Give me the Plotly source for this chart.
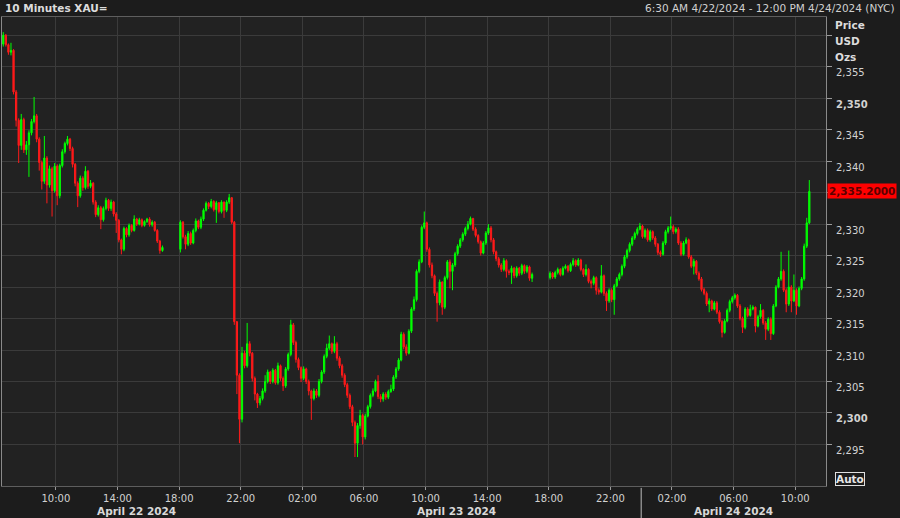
import pandas as pd
import plotly.graph_objects as go

# ---------------- data (10-minute XAU= candles) ----------------
session_starts = ["2024-04-22 06:30", "2024-04-22 18:00", "2024-04-23 18:00"]

open_s1 = [2358.6, 2360.0, 2358.5, 2357.3, 2357.6, 2351.0, 2346.5, 2342.5, 2346.6, 2341.8,
           2342.6, 2344.5, 2346.3, 2347.2, 2343.5, 2339.8, 2336.8, 2340.5, 2336.2, 2338.8,
           2335.3, 2339.2, 2334.5, 2339.3, 2341.5, 2342.8, 2343.5, 2342.0, 2339.5, 2336.5,
           2334.5, 2337.3, 2335.8, 2338.4, 2336.0, 2336.5, 2333.5, 2331.5, 2332.6, 2330.7,
           2332.5, 2333.8, 2332.5, 2333.5, 2331.6, 2330.6, 2327.5, 2326.0, 2329.3, 2328.3,
           2329.8, 2329.0, 2330.8, 2330.0, 2330.7, 2329.8, 2330.4, 2330.8, 2329.9, 2330.3,
           2329.0, 2327.3, 2325.8]
high_s1 = [2360.5, 2360.2, 2358.7, 2358.8, 2357.8, 2351.3, 2346.8, 2347.5, 2346.9, 2343.2,
           2344.9, 2346.7, 2350.2, 2347.5, 2343.8, 2340.1, 2344.0, 2340.8, 2339.3, 2339.1,
           2339.7, 2339.5, 2339.6, 2341.9, 2343.1, 2344.0, 2343.7, 2342.3, 2339.7, 2336.8,
           2337.7, 2337.6, 2339.2, 2338.6, 2337.0, 2336.7, 2333.8, 2333.0, 2332.9, 2332.8,
           2334.2, 2334.0, 2333.9, 2333.7, 2331.9, 2330.8, 2327.7, 2329.6, 2329.5, 2330.1,
           2330.0, 2331.4, 2331.0, 2331.0, 2330.9, 2330.6, 2331.0, 2331.1, 2330.6, 2330.5,
           2329.2, 2327.5, 2326.6]
low_s1 = [2358.2, 2358.2, 2356.9, 2356.8, 2350.6, 2345.5, 2339.7, 2341.8, 2341.3, 2341.0,
          2337.5, 2344.1, 2346.0, 2343.0, 2338.5, 2335.5, 2336.4, 2333.3, 2335.8, 2331.2,
          2335.0, 2333.0, 2334.1, 2339.0, 2341.2, 2342.5, 2341.6, 2339.0, 2336.0, 2332.7,
          2334.2, 2335.3, 2335.5, 2335.6, 2335.7, 2333.1, 2331.1, 2331.2, 2329.2, 2330.4,
          2332.2, 2332.1, 2332.1, 2331.2, 2328.6, 2327.1, 2325.2, 2325.7, 2327.9, 2328.0,
          2328.7, 2328.8, 2329.7, 2329.8, 2329.5, 2329.6, 2330.2, 2329.6, 2329.6, 2328.8,
          2327.0, 2325.3, 2325.6]
close_s1 = [2360.0, 2358.5, 2357.3, 2357.6, 2351.0, 2346.5, 2342.5, 2346.6, 2341.8, 2342.6,
            2344.5, 2346.3, 2347.2, 2343.5, 2339.8, 2336.8, 2340.5, 2336.2, 2338.8, 2335.3,
            2339.2, 2334.5, 2339.3, 2341.5, 2342.8, 2343.5, 2342.0, 2339.5, 2336.5, 2334.5,
            2337.3, 2335.8, 2338.4, 2336.0, 2336.5, 2333.5, 2331.5, 2332.6, 2330.7, 2332.5,
            2333.8, 2332.5, 2333.5, 2331.6, 2330.6, 2327.5, 2326.0, 2329.3, 2328.3, 2329.8,
            2329.0, 2330.8, 2330.0, 2330.7, 2329.8, 2330.4, 2330.8, 2329.9, 2330.3, 2329.0,
            2327.3, 2325.8, 2326.3]

open_s2 = [2326.0, 2330.3, 2328.0, 2326.8, 2328.5, 2327.0, 2329.0, 2330.5, 2329.5, 2330.8,
           2332.2, 2333.3, 2332.8, 2333.6, 2332.3, 2333.4, 2332.0, 2333.5, 2332.2, 2333.5,
           2334.2, 2330.3, 2314.5, 2306.0, 2299.0, 2309.5, 2307.5, 2311.0, 2309.5, 2305.5,
           2303.0, 2301.6, 2302.3, 2303.5, 2305.0, 2306.5, 2305.0, 2306.8, 2304.8, 2307.5,
           2305.5, 2304.3, 2307.0, 2309.3, 2314.0, 2311.2, 2308.5, 2307.2, 2305.5, 2307.0,
           2305.0, 2303.5, 2302.3, 2303.5, 2302.8, 2305.0, 2306.5, 2309.0, 2310.3, 2311.0,
           2309.8, 2311.0, 2308.7, 2307.5, 2306.0, 2304.5, 2302.8, 2301.0, 2298.5, 2295.2,
           2298.0, 2299.6, 2296.2, 2299.5, 2301.0, 2302.8, 2303.5, 2305.0, 2302.6, 2302.2,
           2303.0, 2302.5, 2303.4, 2303.8, 2305.7, 2307.0, 2308.4, 2312.5, 2310.5, 2309.5,
           2313.0, 2316.5, 2318.0, 2322.5, 2324.0, 2329.5, 2330.2, 2326.0, 2323.5, 2321.8,
           2319.0, 2317.5, 2320.8, 2316.8, 2321.5, 2324.0, 2322.5, 2323.5, 2325.3, 2326.5,
           2327.5, 2328.4, 2329.3, 2330.0, 2330.9, 2329.2, 2328.2, 2327.2, 2325.4, 2327.0,
           2328.6, 2329.4, 2327.5, 2325.6, 2324.5, 2323.5, 2322.8, 2324.2, 2322.5, 2322.3,
           2323.0, 2321.8, 2323.0, 2322.2, 2323.4, 2322.5, 2323.2, 2321.4]
high_s2 = [2330.6, 2330.5, 2328.3, 2328.9, 2328.8, 2329.3, 2330.9, 2330.7, 2331.2, 2332.5,
           2333.6, 2333.5, 2334.0, 2333.8, 2333.7, 2333.5, 2333.8, 2333.6, 2333.8, 2334.8,
           2334.3, 2330.5, 2314.6, 2306.3, 2310.5, 2309.9, 2314.3, 2311.4, 2309.7, 2305.8,
           2303.2, 2302.7, 2303.9, 2306.0, 2306.9, 2306.7, 2307.1, 2307.0, 2308.0, 2307.7,
           2305.8, 2307.3, 2309.6, 2314.8, 2314.3, 2311.5, 2308.8, 2307.4, 2307.4, 2307.2,
           2305.3, 2303.7, 2303.9, 2303.8, 2305.4, 2306.8, 2309.3, 2311.0, 2312.3, 2311.2,
           2312.2, 2311.3, 2309.0, 2307.8, 2306.3, 2304.8, 2303.1, 2301.3, 2298.8, 2298.4,
           2300.5, 2299.9, 2299.9, 2301.3, 2303.1, 2303.9, 2305.3, 2306.0, 2303.0, 2303.3,
           2303.3, 2303.7, 2304.5, 2306.0, 2307.3, 2308.7, 2312.9, 2312.8, 2310.9, 2313.3,
           2316.8, 2318.5, 2322.8, 2324.4, 2329.8, 2332.0, 2330.4, 2326.3, 2323.9, 2322.0,
           2319.3, 2321.2, 2320.9, 2321.8, 2324.3, 2324.4, 2323.8, 2325.6, 2326.8, 2327.8,
           2328.7, 2329.6, 2330.5, 2331.2, 2331.0, 2329.5, 2328.4, 2327.4, 2327.3, 2328.9,
           2330.0, 2329.7, 2327.8, 2325.8, 2324.8, 2323.8, 2324.6, 2324.4, 2322.8, 2323.4,
           2323.2, 2323.3, 2323.2, 2323.7, 2323.6, 2323.5, 2323.4, 2322.3]
low_s2 = [2325.5, 2327.7, 2326.0, 2326.5, 2326.7, 2326.8, 2328.7, 2329.2, 2329.2, 2330.5,
          2332.0, 2332.4, 2332.5, 2332.0, 2330.2, 2331.7, 2331.7, 2331.0, 2331.9, 2333.2,
          2330.0, 2314.0, 2303.0, 2295.2, 2298.5, 2307.1, 2307.2, 2309.0, 2305.0, 2302.0,
          2300.8, 2301.2, 2302.0, 2303.2, 2304.7, 2304.6, 2304.7, 2304.5, 2304.5, 2305.1,
          2303.5, 2304.0, 2306.7, 2309.0, 2310.8, 2308.0, 2306.8, 2304.9, 2305.2, 2304.6,
          2302.8, 2298.9, 2302.0, 2302.4, 2302.5, 2304.7, 2306.2, 2308.7, 2310.0, 2309.4,
          2309.5, 2308.3, 2307.1, 2305.6, 2304.1, 2302.4, 2300.6, 2297.9, 2293.0, 2293.0,
          2297.5, 2295.0, 2295.8, 2299.3, 2300.7, 2302.5, 2303.3, 2302.2, 2301.7, 2301.8,
          2302.1, 2302.2, 2303.2, 2303.5, 2305.4, 2306.7, 2308.2, 2310.1, 2309.1, 2309.3,
          2312.7, 2316.2, 2317.7, 2322.2, 2323.8, 2329.2, 2325.6, 2323.1, 2321.4, 2318.6,
          2314.5, 2317.1, 2315.6, 2316.5, 2321.2, 2319.8, 2319.5, 2323.2, 2325.0, 2326.2,
          2327.2, 2328.1, 2329.0, 2329.8, 2328.9, 2327.9, 2326.9, 2325.0, 2325.2, 2326.7,
          2328.3, 2327.1, 2325.2, 2324.1, 2323.1, 2322.4, 2322.5, 2321.5, 2321.9, 2320.5,
          2321.4, 2321.5, 2321.8, 2321.9, 2322.1, 2322.2, 2321.0, 2320.8]
close_s2 = [2330.3, 2328.0, 2326.8, 2328.5, 2327.0, 2329.0, 2330.5, 2329.5, 2330.8, 2332.2,
            2333.3, 2332.8, 2333.6, 2332.3, 2333.4, 2332.0, 2333.5, 2332.2, 2333.5, 2334.2,
            2330.3, 2314.5, 2306.0, 2299.0, 2309.5, 2307.5, 2311.0, 2309.5, 2305.5, 2303.0,
            2301.6, 2302.3, 2303.5, 2305.0, 2306.5, 2305.0, 2306.8, 2304.8, 2307.5, 2305.5,
            2304.3, 2307.0, 2309.3, 2314.0, 2311.2, 2308.5, 2307.2, 2305.5, 2307.0, 2305.0,
            2303.5, 2302.3, 2303.5, 2302.8, 2305.0, 2306.5, 2309.0, 2310.3, 2311.0, 2309.8,
            2311.0, 2308.7, 2307.5, 2306.0, 2304.5, 2302.8, 2301.0, 2298.5, 2295.2, 2298.0,
            2299.6, 2296.2, 2299.5, 2301.0, 2302.8, 2303.5, 2305.0, 2302.6, 2302.2, 2303.0,
            2302.5, 2303.4, 2303.8, 2305.7, 2307.0, 2308.4, 2312.5, 2310.5, 2309.5, 2313.0,
            2316.5, 2318.0, 2322.5, 2324.0, 2329.5, 2330.2, 2326.0, 2323.5, 2321.8, 2319.0,
            2317.5, 2320.8, 2316.8, 2321.5, 2324.0, 2322.5, 2323.5, 2325.3, 2326.5, 2327.5,
            2328.4, 2329.3, 2330.0, 2330.9, 2329.2, 2328.2, 2327.2, 2325.4, 2327.0, 2328.6,
            2329.4, 2327.5, 2325.6, 2324.5, 2323.5, 2322.8, 2324.2, 2322.5, 2322.3, 2323.0,
            2321.8, 2323.0, 2322.2, 2323.4, 2322.5, 2323.2, 2321.4, 2322.0]

open_s3 = [2321.5, 2322.2, 2321.6, 2322.3, 2322.8, 2322.0, 2323.0, 2323.3, 2322.6, 2323.6,
           2324.2, 2323.5, 2324.3, 2322.8, 2322.0, 2322.8, 2320.9, 2320.6, 2321.5, 2319.5,
           2319.2, 2321.8, 2319.0, 2317.8, 2319.5, 2318.0, 2320.2, 2321.3, 2322.0, 2323.3,
           2324.8, 2325.8, 2326.8, 2327.8, 2328.5, 2329.2, 2329.7, 2328.0, 2329.0, 2327.5,
           2328.8, 2327.8, 2326.8, 2325.5, 2325.2, 2327.0, 2328.8, 2329.4, 2329.6, 2328.8,
           2329.2, 2327.0, 2325.2, 2327.0, 2327.5, 2324.8, 2323.3, 2324.1, 2322.2, 2321.3,
           2319.6, 2319.0, 2317.3, 2317.8, 2316.5, 2317.5, 2316.0, 2314.5, 2312.8, 2314.6,
           2316.3, 2317.7, 2318.3, 2318.7, 2317.0, 2315.0, 2313.6, 2316.5, 2315.5, 2316.5,
           2316.8, 2313.8, 2315.3, 2316.3, 2314.3, 2313.3, 2314.9, 2312.6, 2317.0, 2320.0,
           2321.3, 2322.5, 2319.5, 2317.3, 2320.0, 2317.8, 2319.5, 2317.0, 2319.8, 2321.3,
           2326.5, 2330.2]
high_s3 = [2322.5, 2322.4, 2322.6, 2323.1, 2323.0, 2323.3, 2323.6, 2323.5, 2323.9, 2324.6,
           2324.4, 2324.6, 2324.5, 2323.0, 2323.6, 2323.0, 2321.2, 2321.8, 2321.7, 2319.8,
           2323.5, 2322.0, 2319.3, 2319.8, 2319.8, 2320.5, 2321.6, 2322.3, 2323.6, 2325.1,
           2326.1, 2327.1, 2328.1, 2328.8, 2329.5, 2330.2, 2329.9, 2329.3, 2329.3, 2329.1,
           2329.0, 2328.1, 2327.0, 2325.8, 2327.3, 2329.1, 2329.7, 2331.2, 2329.9, 2329.5,
           2329.5, 2327.3, 2327.3, 2327.9, 2327.7, 2325.1, 2324.5, 2324.3, 2322.5, 2321.6,
           2319.9, 2319.3, 2318.2, 2318.0, 2317.8, 2317.8, 2316.3, 2314.8, 2314.9, 2316.6,
           2318.0, 2318.6, 2319.0, 2318.9, 2317.3, 2315.3, 2316.8, 2316.8, 2317.2, 2317.1,
           2316.9, 2315.6, 2317.3, 2316.5, 2314.6, 2315.2, 2315.2, 2317.3, 2320.3, 2321.6,
           2325.6, 2322.8, 2319.8, 2325.8, 2320.3, 2322.0, 2319.8, 2320.1, 2321.6, 2326.9,
           2331.0, 2337.0]
low_s3 = [2321.2, 2321.3, 2321.3, 2322.0, 2321.7, 2321.8, 2322.8, 2322.3, 2322.4, 2323.3,
          2323.2, 2323.3, 2322.5, 2321.6, 2321.7, 2320.6, 2319.8, 2320.3, 2318.8, 2318.8,
          2319.0, 2318.6, 2316.2, 2317.5, 2317.6, 2315.6, 2320.0, 2321.0, 2321.7, 2323.0,
          2324.5, 2325.5, 2326.5, 2327.5, 2328.2, 2329.0, 2327.7, 2327.7, 2327.2, 2327.2,
          2327.5, 2326.4, 2325.1, 2324.8, 2325.0, 2326.7, 2328.5, 2329.1, 2328.4, 2328.5,
          2326.7, 2324.9, 2325.0, 2326.8, 2324.5, 2323.0, 2322.0, 2321.9, 2321.0, 2319.3,
          2318.7, 2317.0, 2316.0, 2316.2, 2316.3, 2315.7, 2314.2, 2312.0, 2312.6, 2314.4,
          2316.0, 2317.4, 2318.0, 2316.7, 2314.7, 2312.7, 2313.3, 2315.2, 2315.3, 2316.3,
          2312.8, 2313.6, 2315.0, 2314.0, 2311.6, 2313.0, 2311.6, 2312.4, 2316.8, 2319.8,
          2321.0, 2319.2, 2316.0, 2317.0, 2316.0, 2317.6, 2315.6, 2316.8, 2319.5, 2321.0,
          2326.2, 2330.0]
close_s3 = [2322.2, 2321.6, 2322.3, 2322.8, 2322.0, 2323.0, 2323.3, 2322.6, 2323.6, 2324.2,
            2323.5, 2324.3, 2322.8, 2322.0, 2322.8, 2320.9, 2320.6, 2321.5, 2319.5, 2319.2,
            2321.8, 2319.0, 2317.8, 2319.5, 2318.0, 2320.2, 2321.3, 2322.0, 2323.3, 2324.8,
            2325.8, 2326.8, 2327.8, 2328.5, 2329.2, 2329.7, 2328.0, 2329.0, 2327.5, 2328.8,
            2327.8, 2326.8, 2325.5, 2325.2, 2327.0, 2328.8, 2329.4, 2329.6, 2328.8, 2329.2,
            2327.0, 2325.2, 2327.0, 2327.5, 2324.8, 2323.3, 2324.1, 2322.2, 2321.3, 2319.6,
            2319.0, 2317.3, 2317.8, 2316.5, 2317.5, 2316.0, 2314.5, 2312.8, 2314.6, 2316.3,
            2317.7, 2318.3, 2318.7, 2317.0, 2315.0, 2313.6, 2316.5, 2315.5, 2316.5, 2316.8,
            2313.8, 2315.3, 2316.3, 2314.3, 2313.3, 2314.9, 2312.6, 2317.0, 2320.0, 2321.3,
            2322.5, 2319.5, 2317.3, 2320.0, 2317.8, 2319.5, 2317.0, 2319.8, 2321.3, 2326.5,
            2330.2, 2335.2]

x_tick_vals = ["2024-04-22 10:00", "2024-04-22 14:00", "2024-04-22 18:00", "2024-04-22 22:00",
               "2024-04-23 02:00", "2024-04-23 06:00", "2024-04-23 10:00", "2024-04-23 14:00",
               "2024-04-23 18:00", "2024-04-23 22:00", "2024-04-24 02:00", "2024-04-24 06:00",
               "2024-04-24 10:00"]
x_tick_text = ["10:00", "14:00", "18:00", "22:00", "02:00", "06:00", "10:00", "14:00",
               "18:00", "22:00", "02:00", "06:00", "10:00"]
y_tick_vals = [2295, 2300, 2305, 2310, 2315, 2320, 2325, 2330, 2335, 2340, 2345, 2350, 2355, 2360]
# 2,335 sits under the last-price box and 2,360 under the "USD" header in the reference
y_tick_text = ["2,295", "<b>2,300</b>", "2,305", "2,310", "2,315", "2,320", "2,325", "2,330",
               "", "2,340", "2,345", "<b>2,350</b>", "2,355", ""]
day_labels = ["April 22 2024", "April 23 2024", "April 24 2024"]
day_label_pos = ["2024-04-22 15:15", "2024-04-23 12:00", "2024-04-24 06:00"]
day_separator = "2024-04-24 00:00"
x_range = ["2024-04-22 06:30", "2024-04-24 12:00"]
y_range = [2288.4, 2362.9]

# ---------------- build ----------------
opens = open_s1 + open_s2 + open_s3
highs = high_s1 + high_s2 + high_s3
lows = low_s1 + low_s2 + low_s3
closes = close_s1 + close_s2 + close_s3
times = []
for start, c in zip(session_starts, [close_s1, close_s2, close_s3]):
    times += list(pd.date_range(start, periods=len(c), freq="10min") + pd.Timedelta(minutes=5))

fig = go.Figure(go.Candlestick(
    x=times, open=opens, high=highs, low=lows, close=closes,
    increasing=dict(line=dict(color="#00ff00", width=1), fillcolor="#00ff00"),
    decreasing=dict(line=dict(color="#ff1a1a", width=1), fillcolor="#ff1a1a"),
    whiskerwidth=0, showlegend=False,
))

FONT = "DejaVu Sans"
TXT = "#d2d2d2"
fig.update_layout(
    width=900, height=518,
    margin=dict(l=2, r=74, t=17, b=32),
    paper_bgcolor="#1c1c1c", plot_bgcolor="#222222",
    font=dict(family=FONT, size=10, color=TXT),
    showlegend=False,
)
fig.update_xaxes(
    type="date", range=x_range, rangeslider_visible=False,
    tickmode="array", tickvals=x_tick_vals, ticktext=x_tick_text,
    ticks="outside", ticklen=3, tickcolor="#9a9a9a", tickwidth=1,
    showgrid=True, gridcolor="#3b3b3b", gridwidth=1,
    showline=True, linecolor="#5e5e5e", linewidth=1, mirror=True,
    zeroline=False, tickfont=dict(family=FONT, size=10, color=TXT),
)
fig.update_yaxes(
    side="right", range=y_range,
    tickmode="array", tickvals=y_tick_vals, ticktext=y_tick_text,
    ticks="outside", ticklen=5, tickcolor="#9a9a9a", tickwidth=1,
    showgrid=True, gridcolor="#3b3b3b", gridwidth=1,
    showline=True, linecolor="#8a8a8a", linewidth=1, mirror=True,
    zeroline=False, ticklabelshift=6, ticklabelstandoff=2,
    tickfont=dict(family=FONT, size=10, color=TXT),
)

# headers
fig.add_annotation(xref="paper", yref="paper", x=0.001, y=1.019, xanchor="left", yanchor="middle",
                   text="<b>10 Minutes XAU=</b>", showarrow=False,
                   font=dict(family=FONT, size=10.5, color="#dcdcdc"))
fig.add_annotation(xref="paper", yref="paper", x=1.0862, y=1.019, xanchor="right", yanchor="middle",
                   text="6:30 AM 4/22/2024 - 12:00 PM 4/24/2024 (NYC)", showarrow=False,
                   font=dict(family=FONT, size=10.5, color="#d0d0d0"))
for txt, yy in zip(["Price", "USD", "Ozs"], [0.983, 0.9488, 0.9147]):
    fig.add_annotation(xref="paper", yref="paper", x=1.0085, y=yy, xanchor="left", yanchor="middle",
                       text=f"<b>{txt}</b>", showarrow=False,
                       font=dict(family=FONT, size=10.5, color="#dcdcdc"))

# last price label
last_price = close_s3[-1]
fig.add_annotation(xref="paper", yref="y", x=1.0, y=last_price, xanchor="left", yanchor="middle",
                   xshift=1, text=f"<b>{last_price:,.4f}</b>", showarrow=False,
                   bgcolor="#ff0000", borderpad=1,
                   font=dict(family=FONT, size=10.5, color="#5a0000"))

# Auto box
fig.add_annotation(xref="paper", yref="paper", x=1.0297, y=0.0149, xanchor="center", yanchor="middle",
                   text="<b>Auto</b>", showarrow=False, bordercolor="#e0e0e0", borderwidth=1,
                   borderpad=0, font=dict(family=FONT, size=10.5, color="#e6e6e6"))

# day labels
for txt, pos in zip(day_labels, day_label_pos):
    fig.add_annotation(xref="x", yref="paper", x=pos, y=-0.0533, xanchor="center", yanchor="middle",
                       text=f"<b>{txt}</b>", showarrow=False,
                       font=dict(family=FONT, size=10.5, color="#d8d8d8"))
fig.add_shape(type="line", xref="x", yref="paper", x0=day_separator, x1=day_separator,
              y0=-0.004, y1=-0.07, line=dict(color="#bdbdbd", width=1))

fig.write_html("out.html",
               config={"displayModeBar": False},
               post_script="document.body.style.margin='0';document.body.style.background='#1c1c1c';")
